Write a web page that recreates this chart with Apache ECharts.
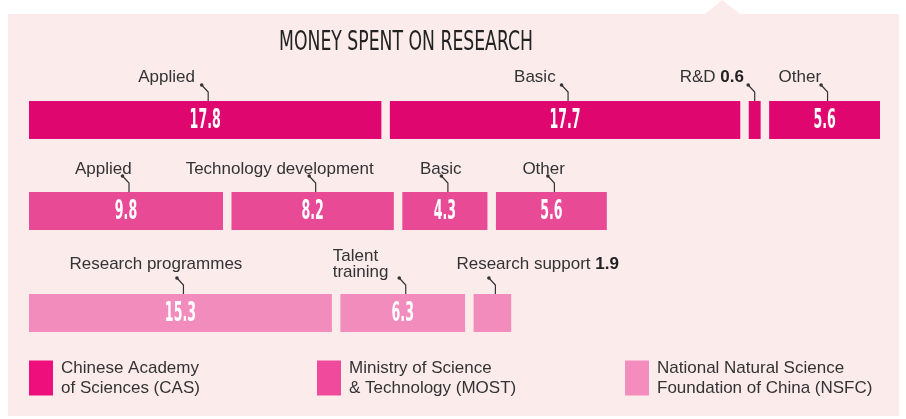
<!DOCTYPE html>
<html lang="en">
<head>
  <meta charset="UTF-8">
  <title>Money spent on research</title>
  <style>
    html, body { margin: 0; padding: 0; background: #fff; }
    #chart { width: 906px; height: 419px; }
  </style>
</head>
<body>
<div id="chart"></div>
<script src="https://cdn.jsdelivr.net/npm/echarts@6/dist/echarts.min.js"></script>
<script>
  // --- data ---
  const orgs = ['Chinese Academy\nof Sciences (CAS)', 'Ministry of Science\n& Technology (MOST)', 'National Natural Science\nFoundation of China (NSFC)'];
  const casCategories = ['Applied', 'Basic', 'R&D', 'Other'];
  const casValues = [17.8, 17.7, 0.6, 5.6];
  const mostCategories = ['Applied', 'Technology development', 'Basic', 'Other'];
  const mostValues = [9.8, 8.2, 4.3, 5.6];
  const nsfcCategories = ['Research programmes', 'Talent\ntraining', 'Research support'];
  const nsfcValues = [15.3, 6.3, 1.9];

  // --- layout / style ---
  const rowCats = [casCategories, mostCategories, nsfcCategories];
  const rowVals = [casValues, mostValues, nsfcValues];
  const rowTops = [101, 192, 294];
  const barColors = ['#e0066f', '#e84a96', '#f28cbd'];
  const legendColors = ['#ee0e7c', '#ef4a9b', '#f48dbe'];
  const legendLeft = [29, 317, 625];
  // label left edge / baseline, relative to leader x and bar top
  const labelOffsets = [
    [[-70, -20], [-54, -20], [-75, -20], [-49, -20]],
    [[-54, -19], [-130, -19], [-28, -19], [-32, -19]],
    [[-114, -26], [-73, -18], [-39, -26]]
  ];
  const GAP = 8.5;
  const GRID_LEFT = 29, GRID_W = 851;
  const casSum = casValues.reduce((a, b) => a + b, 0);
  const X_MAX = casSum * GRID_W / (GRID_W - (casValues.length - 1) * GAP);
  const textFont = 'Liberation Sans';

  function rowData(vals) {
    let acc = 0;
    return vals.map((v, i) => {
      const item = [acc, 0, v, i];
      acc += v;
      return item;
    });
  }

  function makeRenderItem(r) {
    return function (params, api) {
      const start = api.value(0);
      const v = api.value(2);
      const idx = api.value(3);
      const a = api.coord([start, 0]);
      const b = api.coord([start + v, 0]);
      const h = api.size([0, 1])[1];
      const top = a[1] - h / 2;
      const x0 = a[0] + idx * GAP;
      const w = b[0] - a[0];
      const narrow = v < 3;
      const lx = x0 + w / 2 + (w < 20 ? 0 : 3);
      const off = labelOffsets[r][idx];
      const name = rowCats[r][idx];
      const children = [
        {type: 'rect', shape: {x: x0, y: top, width: w, height: h}, style: {fill: barColors[r]}},
        {
          type: 'polyline',
          shape: {points: [[lx - 6.5, top - 16], [lx, top - 9], [lx, top]]},
          style: {stroke: '#333', lineWidth: 1.2, fill: 'none'}
        },
        {type: 'circle', shape: {cx: lx - 6.5, cy: top - 16, r: 1.8}, style: {fill: '#333'}},
        {
          type: 'text',
          x: lx + off[0],
          y: top + off[1] + 4,
          style: {
            text: narrow ? '{t|' + name + '} {b|' + v + '}' : name,
            rich: {
              t: {fontSize: 17, fontFamily: textFont, fill: '#333'},
              b: {fontSize: 17, fontFamily: textFont, fontWeight: 'bold', fill: '#222'}
            },
            fontSize: 17,
            fontFamily: textFont,
            fill: '#333',
            lineHeight: 16,
            align: 'left',
            verticalAlign: 'bottom'
          }
        }
      ];
      if (!narrow) {
        children.push({
          type: 'text',
          x: x0 + w / 2,
          y: top + h / 2 + 1,
          scaleX: 0.52,
          style: {
            text: String(v),
            fill: '#fff',
            fontSize: 27,
            fontWeight: 'bold',
            fontFamily: 'DejaVu Sans Condensed',
            align: 'center',
            verticalAlign: 'middle'
          }
        });
      }
      return {type: 'group', children: children};
    };
  }

  const chart = echarts.init(document.getElementById('chart'));

  const option = {
    animation: false,
    graphic: [
      {
        type: 'polygon',
        z: -10,
        shape: {points: [[8, 14], [705, 14], [722, 0], [740, 14], [899, 14], [899, 416], [8, 416]]},
        style: {fill: '#fbebeb'}
      },
      {
        type: 'text',
        x: 406,
        y: 43,
        scaleX: 0.71,
        style: {
          text: 'MONEY SPENT ON RESEARCH',
          fontSize: 27,
          fontFamily: 'DejaVu Sans Condensed',
          fill: '#222',
          align: 'center',
          verticalAlign: 'middle'
        }
      }
    ],
    legend: orgs.map((name, i) => ({
      data: [{name: name, itemStyle: {color: legendColors[i]}}],
      left: legendLeft[i],
      top: 358,
      padding: 0,
      itemWidth: 24,
      itemHeight: 35,
      itemGap: 0,
      icon: 'rect',
      selectedMode: false,
      textStyle: {fontSize: 17, lineHeight: 20, color: '#333', fontFamily: textFont, padding: [0, 0, 0, 3]}
    })),
    grid: rowTops.map(t => ({left: GRID_LEFT, width: GRID_W, top: t, height: 38})),
    xAxis: rowTops.map((t, i) => ({type: 'value', gridIndex: i, min: 0, max: X_MAX, show: false})),
    yAxis: rowTops.map((t, i) => ({type: 'category', gridIndex: i, data: [orgs[i]], show: false})),
    series: orgs.map((name, r) => ({
      name: name,
      type: 'custom',
      xAxisIndex: r,
      yAxisIndex: r,
      itemStyle: {color: legendColors[r]},
      encode: {x: 0, y: 1},
      renderItem: makeRenderItem(r),
      data: rowData(rowVals[r])
    }))
  };

  chart.setOption(option);
</script>
</body>
</html>
